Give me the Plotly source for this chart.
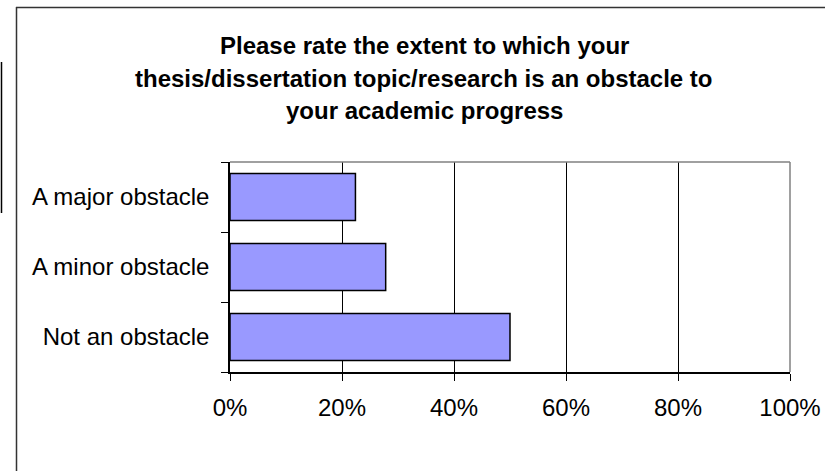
import plotly.graph_objects as go

categories = ["A major obstacle", "A minor obstacle", "Not an obstacle"]
values = [0.224, 0.278, 0.50]
x_ticks = [0, 0.2, 0.4, 0.6, 0.8, 1.0]
x_tick_labels = ["0%", "20%", "40%", "60%", "80%", "100%"]
title_lines = [
    "Please rate the extent to which your",
    "thesis/dissertation topic/research is an obstacle to",
    "your academic progress",
]

W, H = 826, 471
L, R, T, B = 230, 790, 162, 372

def px(x):
    return (x - L) / (R - L)

def py(y):
    return (B - y) / (B - T)

font = "Liberation Sans, Arial, sans-serif"

fig = go.Figure(
    go.Bar(
        x=values,
        y=categories,
        orientation="h",
        marker=dict(color="#9999FF", line=dict(color="black", width=1.5)),
    )
)

fig.update_layout(
    width=W,
    height=H,
    autosize=False,
    margin=dict(l=L, r=W - R, t=T, b=H - B, pad=0, autoexpand=False),
    paper_bgcolor="white",
    plot_bgcolor="white",
    showlegend=False,
    bargap=0.33,
    font=dict(family=font, size=24, color="black"),
)

fig.update_xaxes(
    range=[0, 1],
    tickvals=x_ticks,
    ticktext=x_tick_labels,
    showgrid=True,
    gridcolor="black",
    gridwidth=1,
    showline=True,
    linecolor="black",
    linewidth=1.5,
    ticks="outside",
    ticklen=7,
    tickcolor="black",
    tickfont=dict(family=font, size=24),
    zeroline=False,
    ticklabelstandoff=6,
    automargin=False,
    fixedrange=True,
)

fig.update_yaxes(
    categoryorder="array",
    categoryarray=categories[::-1],
    showgrid=False,
    showline=True,
    linecolor="black",
    linewidth=1.5,
    ticks="outside",
    tickson="boundaries",
    ticklen=7,
    tickcolor="black",
    tickfont=dict(family=font, size=24),
    ticklabelstandoff=14,
    automargin=False,
    fixedrange=True,
)

shapes = [
    dict(type="line", xref="paper", yref="paper", x0=0, x1=1, y0=1, y1=1,
         line=dict(color="#808080", width=1.5)),
    dict(type="line", xref="paper", yref="paper", x0=1, x1=1, y0=0, y1=1,
         line=dict(color="#808080", width=1.5)),
    dict(type="line", xref="paper", yref="paper", x0=px(16.5), x1=px(16.5),
         y0=py(7), y1=py(471), line=dict(color="#333333", width=1.5)),
    dict(type="line", xref="paper", yref="paper", x0=px(16), x1=px(825),
         y0=py(7.5), y1=py(7.5), line=dict(color="#333333", width=1.5)),
    dict(type="line", xref="paper", yref="paper", x0=px(1.5), x1=px(1.5),
         y0=py(62), y1=py(213), line=dict(color="black", width=1.5)),
]
fig.update_layout(shapes=shapes)

title_y = [45, 78, 110]
annotations = []
for txt, yy in zip(title_lines, title_y):
    annotations.append(dict(
        text="<b>" + txt + "</b>",
        xref="paper", yref="paper",
        x=px(424), y=py(yy),
        xanchor="center", yanchor="middle",
        showarrow=False,
        font=dict(family=font, size=24, color="black"),
    ))
fig.update_layout(annotations=annotations)

fig.write_html(
    "out.html",
    config={"displayModeBar": False, "responsive": False},
    post_script="document.body.style.margin='0';document.body.style.padding='0';document.body.style.overflow='hidden';",
)
